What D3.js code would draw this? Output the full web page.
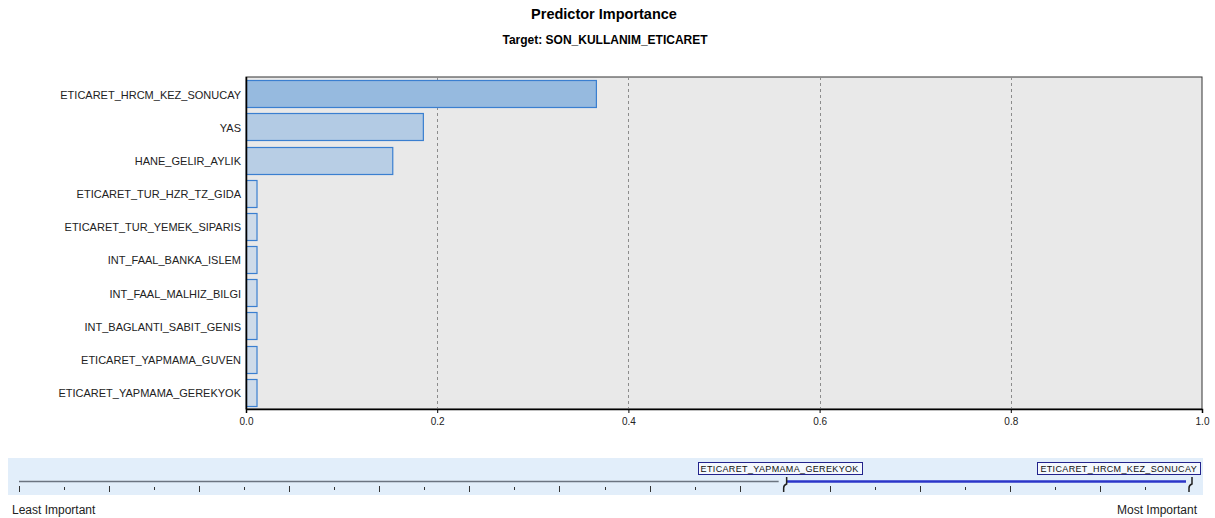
<!DOCTYPE html>
<html>
<head>
<meta charset="utf-8">
<script src="https://cdn.jsdelivr.net/npm/d3@7"></script>
<style>
  body { margin: 0; background: #fff; }
  svg { display: block; font-family: "Liberation Sans", Arial, sans-serif; }
</style>
</head>
<body>
<svg id="chart" width="1215" height="518"></svg>
<script>
// ---- data ----
const predictors = [
  "ETICARET_HRCM_KEZ_SONUCAY",
  "YAS",
  "HANE_GELIR_AYLIK",
  "ETICARET_TUR_HZR_TZ_GIDA",
  "ETICARET_TUR_YEMEK_SIPARIS",
  "INT_FAAL_BANKA_ISLEM",
  "INT_FAAL_MALHIZ_BILGI",
  "INT_BAGLANTI_SABIT_GENIS",
  "ETICARET_YAPMAMA_GUVEN",
  "ETICARET_YAPMAMA_GEREKYOK"
];
const importance = [0.366, 0.185, 0.153, 0.011, 0.011, 0.011, 0.011, 0.011, 0.011, 0.011];
const xTicks = [0.0, 0.2, 0.4, 0.6, 0.8, 1.0];
const totalPredictors = 27;           // predictors on the slider scale
const shownRange = [17, 26];          // slider handles (least .. most shown)
const titleText = "Predictor Importance";
const subtitleText = "Target: SON_KULLANIM_ETICARET";

// ---- layout ----
const svg = d3.select("#chart");
const M = { left: 246, right: 1202, top: 77, bottom: 409 };

svg.append("text").attr("x", 604).attr("y", 19).attr("text-anchor", "middle")
  .attr("font-size", 14.5).attr("font-weight", "bold").attr("fill", "#000").text(titleText);
svg.append("text").attr("x", 605).attr("y", 44).attr("text-anchor", "middle")
  .attr("font-size", 12).attr("font-weight", "bold").attr("fill", "#000").text(subtitleText);

const x = d3.scaleLinear().domain([0, 1]).range([M.left, M.right]);
const y = d3.scaleBand().domain(predictors).range([M.top, M.bottom]).paddingInner(0.19).paddingOuter(0.1);
const color = d3.scaleLinear().domain([0, d3.max(importance)]).range(["#d0dce9", "#96badf"]);

// plot background
svg.append("rect").attr("x", M.left).attr("y", M.top)
  .attr("width", M.right - M.left).attr("height", M.bottom - M.top)
  .attr("fill", "#e9e9e9").attr("stroke", "#333").attr("stroke-width", 1);

// grid
svg.append("g").selectAll("line").data(xTicks.filter(d => d > 0 && d < 1)).join("line")
  .attr("x1", d => Math.round(x(d)) + 0.5).attr("x2", d => Math.round(x(d)) + 0.5)
  .attr("y1", M.top).attr("y2", M.bottom)
  .attr("stroke", "#8c8c8c").attr("stroke-dasharray", "3,3").attr("stroke-width", 1);

// bars
const data = predictors.map((p, i) => ({ p, v: importance[i] }));
svg.append("g").selectAll("rect").data(data).join("rect")
  .attr("x", x(0) + 0.5)
  .attr("y", d => Math.round(y(d.p)) + 0.5)
  .attr("width", d => x(d.v) - x(0))
  .attr("height", Math.round(y.bandwidth()))
  .attr("fill", d => color(d.v))
  .attr("stroke", "#3a7fd0").attr("stroke-width", 1.2);

// y labels
svg.append("g").selectAll("text").data(predictors).join("text")
  .attr("x", 241).attr("y", d => y(d) + y.bandwidth() / 2 + 1)
  .attr("dy", "0.35em").attr("text-anchor", "end")
  .attr("font-size", 11).attr("fill", "#222").text(d => d);

// axes lines (left + bottom black)
const xAxis = svg.append("g").attr("transform", `translate(0,${M.bottom})`)
  .call(d3.axisBottom(x).tickValues(xTicks).tickFormat(d3.format(".1f")).tickSize(4));
xAxis.select(".domain").attr("stroke", "#000").attr("stroke-width", 1.5);
xAxis.selectAll(".tick line").attr("stroke", "#000");
xAxis.selectAll(".tick text").attr("font-size", 10).attr("fill", "#222")
  .attr("font-family", "Liberation Sans, Arial, sans-serif").attr("y", 9);
svg.append("line").attr("x1", M.left + 0.5).attr("x2", M.left + 0.5)
  .attr("y1", M.top).attr("y2", M.bottom).attr("stroke", "#000").attr("stroke-width", 1.5);

// ---- slider panel ----
const band = { x0: 8, x1: 1203, y0: 458, y1: 495 };
svg.append("rect").attr("x", band.x0).attr("y", band.y0)
  .attr("width", band.x1 - band.x0).attr("height", band.y1 - band.y0).attr("fill", "#e2eefa");

const s = d3.scaleLinear().domain([0, totalPredictors - 1]).range([19, 1190]);
const lineY = 481.5;
svg.append("line").attr("x1", s(0)).attr("x2", s(shownRange[0]) - 6)
  .attr("y1", lineY).attr("y2", lineY).attr("stroke", "#6b7480").attr("stroke-width", 1.5);
svg.append("line").attr("x1", s(shownRange[0]) + 2).attr("x2", s(shownRange[1]) - 4)
  .attr("y1", lineY).attr("y2", lineY).attr("stroke", "#2b35c8").attr("stroke-width", 2.5);

const tickIdx = d3.range(totalPredictors).filter(i => i !== shownRange[0] && i !== shownRange[1]);
svg.append("g").selectAll("line").data(tickIdx).join("line")
  .attr("x1", i => Math.round(s(i)) + 0.5).attr("x2", i => Math.round(s(i)) + 0.5)
  .attr("y1", i => i % 2 === 0 ? 486 : 487).attr("y2", i => i % 2 === 0 ? 492 : 490)
  .attr("stroke", "#333").attr("stroke-width", 1);

// handles
shownRange.forEach(i => {
  const hx = s(i);
  svg.append("path")
    .attr("d", `M${hx - 1},492 L${hx - 1},488 Q${hx - 1},485 ${hx + 2},484 L${hx + 2},477`)
    .attr("fill", "none").attr("stroke", "#222").attr("stroke-width", 1.5);
});

// handle labels
const labelData = [
  { i: shownRange[0], t: predictors[predictors.length - 1] },
  { i: shownRange[1], t: predictors[0] }
];
labelData.forEach(d => {
  const g = svg.append("g");
  const txt = g.append("text").attr("y", 471.5).attr("font-size", 9)
    .attr("letter-spacing", 0.35).attr("fill", "#111").text(d.t);
  const w = txt.node().getComputedTextLength() + 6;
  let cx = s(d.i) - 5;
  let left = cx - w / 2;
  if (left + w > band.x1 - 3) left = band.x1 - 3 - w;
  g.insert("rect", "text").attr("x", Math.round(left) + 0.5).attr("y", 462.5)
    .attr("width", Math.round(w)).attr("height", 12)
    .attr("fill", "#f4f8fd").attr("stroke", "#23238c").attr("stroke-width", 1);
  txt.attr("x", left + 3);
});

svg.append("text").attr("x", 12).attr("y", 514).attr("font-size", 12).attr("fill", "#222").text("Least Important");
svg.append("text").attr("x", 1197).attr("y", 514).attr("text-anchor", "end")
  .attr("font-size", 12).attr("fill", "#222").text("Most Important");
</script>
</body>
</html>
